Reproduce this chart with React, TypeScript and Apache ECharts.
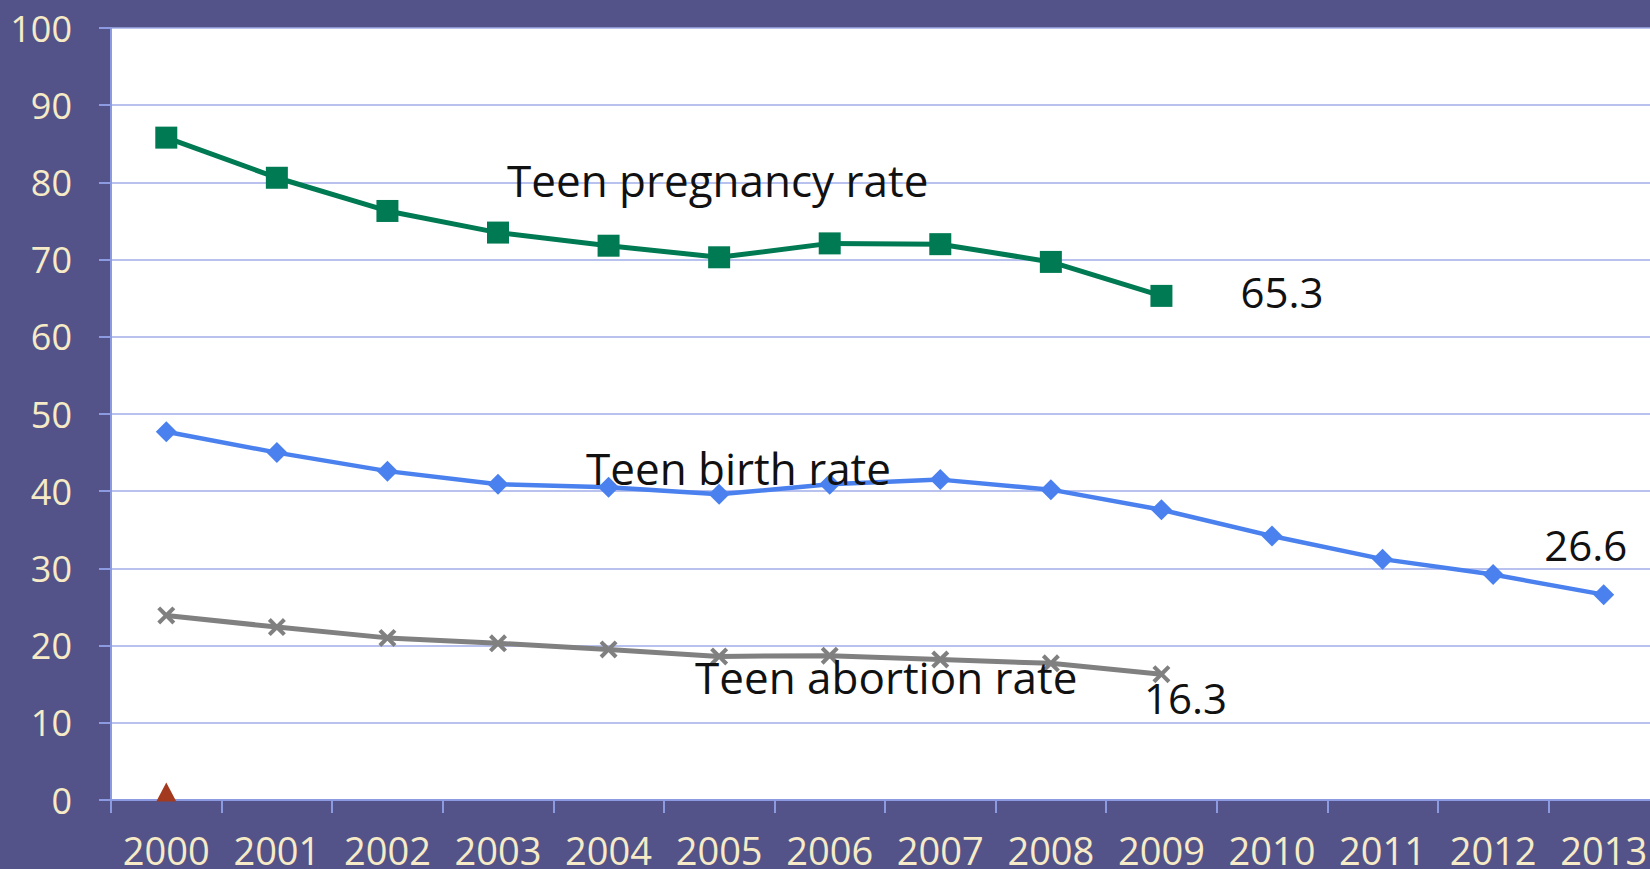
import React, { useEffect, useRef } from "react";
import * as echarts from "echarts";

// Rates per 1,000 females aged 15–19
const years = ["2000", "2001", "2002", "2003", "2004", "2005", "2006", "2007", "2008", "2009", "2010", "2011", "2012", "2013"];
const pregnancyRate = [85.8, 80.6, 76.3, 73.5, 71.8, 70.3, 72.1, 72.0, 69.7, 65.3, null, null, null, null];
const birthRate = [47.7, 45.0, 42.6, 40.9, 40.5, 39.6, 40.9, 41.5, 40.2, 37.6, 34.2, 31.2, 29.2, 26.6];
const abortionRate = [23.9, 22.4, 21.0, 20.3, 19.5, 18.6, 18.7, 18.2, 17.7, 16.3, null, null, null, null];
const baseMarker = [0, null, null, null, null, null, null, null, null, null, null, null, null, null];
const yTicks = { min: 0, max: 100, interval: 10 };

const FONT = "'Open Sans', 'Noto Sans', sans-serif";
const BG = "#535389";
const AXIS = "#8c9ae2";
const GRID = "#a2acea";
const TICK_TEXT = "#f6ebc6";

const CROSS = "path://M0,1.6L1.6,0L5,3.4L8.4,0L10,1.6L6.6,5L10,8.4L8.4,10L5,6.6L1.6,10L0,8.4L3.4,5Z";

// value label on the final point of a series
function withEndLabel(values: (number | null)[], offset: [number, number], align: string) {
  const last = values.reduce((acc: number, v, i) => (v != null ? i : acc), -1);
  return values.map((v, i) =>
    i === last
      ? {
          value: v,
          label: {
            show: true,
            position: "inside",
            formatter: "{c}",
            align,
            verticalAlign: "middle",
            offset,
            fontFamily: FONT,
            fontSize: 42,
            color: "#111",
          },
        }
      : v
  );
}

export default function App() {
  const ref = useRef<HTMLDivElement>(null);

  useEffect(() => {
    if (!ref.current) return;
    const chart = echarts.init(ref.current, null, { renderer: "svg" });

    const nameText = (text: string, left: number, y: number) => ({
      type: "text",
      x: left,
      y,
      z: 100,
      style: {
        text,
        fontFamily: FONT,
        fontSize: 44,
        fill: "#111",
        verticalAlign: "middle",
        align: "left",
      },
    });

    chart.setOption({
      animation: false,
      backgroundColor: BG,
      grid: {
        left: 111,
        top: 28,
        right: 0,
        bottom: 68,
        show: true,
        backgroundColor: "#ffffff",
        borderWidth: 0,
      },
      xAxis: {
        type: "category",
        data: years,
        boundaryGap: true,
        axisLine: { show: true, lineStyle: { color: AXIS, width: 2 } },
        axisTick: { show: true, length: 13, lineStyle: { color: AXIS, width: 2 } },
        axisLabel: {
          color: TICK_TEXT,
          fontFamily: FONT,
          fontSize: 38,
          margin: 31,
          interval: 0,
          hideOverlap: false,
        },
        splitLine: { show: false },
      },
      yAxis: {
        type: "value",
        min: yTicks.min,
        max: yTicks.max,
        interval: yTicks.interval,
        axisLine: { show: true, lineStyle: { color: AXIS, width: 2 } },
        axisTick: { show: true, length: 12, lineStyle: { color: AXIS, width: 2 } },
        axisLabel: { color: TICK_TEXT, fontFamily: FONT, fontSize: 36, margin: 39 },
        splitLine: { show: true, lineStyle: { color: GRID, width: 1.5 } },
      },
      graphic: [
        nameText("Teen pregnancy rate", 507, 180),
        nameText("Teen birth rate", 586, 468),
        nameText("Teen abortion rate", 695, 677),
      ],
      series: [
        {
          name: "Teen pregnancy rate",
          type: "line",
          data: withEndLabel(pregnancyRate, [79, -4], "left"),
          symbol: "rect",
          symbolSize: 22,
          lineStyle: { color: "#007a53", width: 5 },
          itemStyle: { color: "#007a53" },
          z: 3,
        },
        {
          name: "Teen birth rate",
          type: "line",
          data: withEndLabel(birthRate, [-18, -50], "center"),
          symbol: "diamond",
          symbolSize: 21,
          lineStyle: { color: "#4a81ee", width: 4.5 },
          itemStyle: { color: "#4a81ee" },
          z: 3,
        },
        {
          name: "Teen abortion rate",
          type: "line",
          data: withEndLabel(abortionRate, [24, 23], "center"),
          symbol: CROSS,
          symbolSize: 18,
          lineStyle: { color: "#808080", width: 5 },
          itemStyle: { color: "#808080" },
          z: 3,
        },
        {
          name: "baseline",
          type: "line",
          data: baseMarker,
          symbol: "triangle",
          symbolSize: [20, 19],
          symbolOffset: [0, -8],
          showSymbol: true,
          lineStyle: { width: 0 },
          itemStyle: { color: "#a33a1f" },
          z: 3,
        },
      ],
    });

    return () => chart.dispose();
  }, []);

  return (
    <div style={{ position: "fixed", left: 0, top: 0, width: 1650, height: 869, overflow: "hidden" }}>
      <div ref={ref} style={{ width: 1659, height: 869 }} />
    </div>
  );
}
